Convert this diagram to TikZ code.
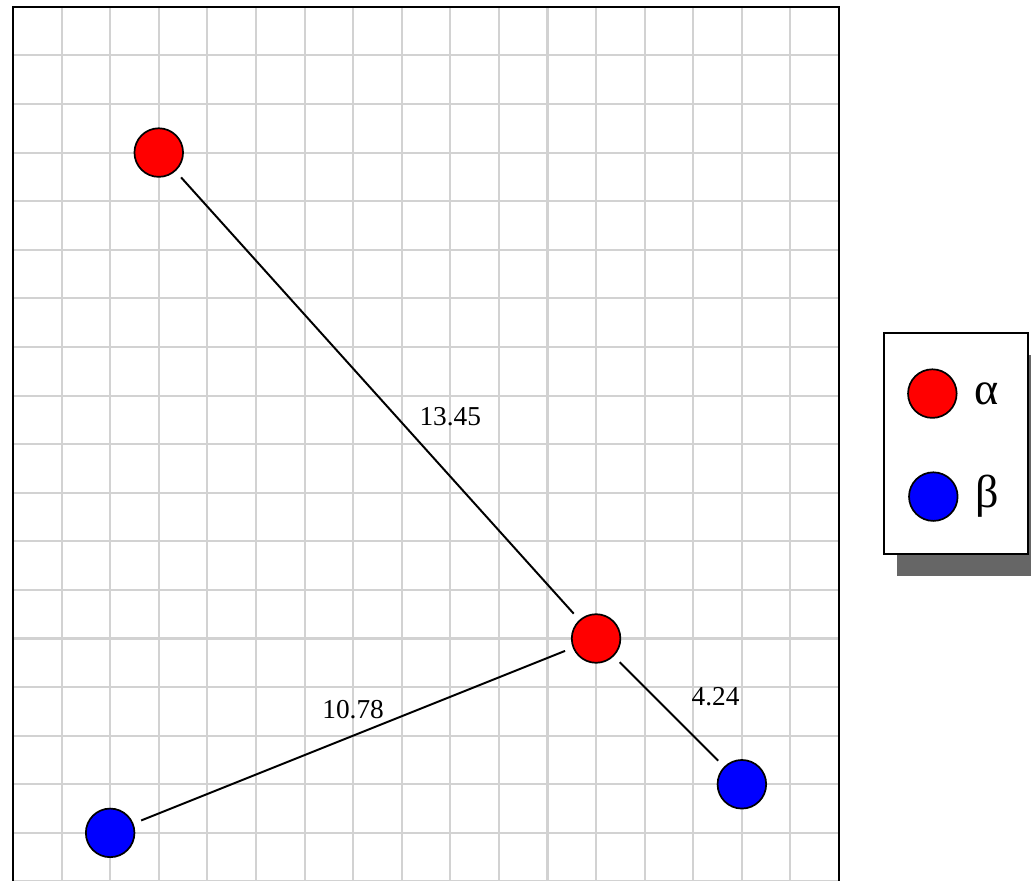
\documentclass[tikz,border=0pt]{standalone}
\usepackage{fontspec}
\setmainfont{Liberation Serif}
\usetikzlibrary{positioning}

\begin{document}
\begin{tikzpicture}[
    pt/.style={circle,draw=black,line width=1pt,minimum size=1cm,inner sep=0pt},
    redpt/.style={pt,fill=red},
    bluept/.style={pt,fill=blue},
    link/.style={line width=1.15pt,shorten <=0.17cm,shorten >=0.17cm},
    dist/.style={font=\fontsize{16}{18}\selectfont}]
  \useasboundingbox (-0.267,0.016) rectangle (20.95,18.14);
  % grid with frame (bottom edge falls off the page)
  \draw[step=1,gray!35,line width=1.2pt] (0,0) grid (17,18);
  \draw[line width=1.2pt] (0,0) -- (0,18) -- (17,18) -- (17,0);
  % points
  \node[redpt] (a1) at (3,15) {};
  \node[redpt] (a2) at (12,5) {};
  \node[bluept] (b1) at (2,1) {};
  \node[bluept] (b2) at (15,2) {};
  % distances
  \draw[link] (a1) -- node[dist,midway,shift={(1.5,-0.43)}] {13.45} (a2);
  \draw[link] (a2) -- node[dist,midway,shift={(0,0.53)}] {10.78} (b1);
  \draw[link] (a2) -- node[dist,midway,shift={(0.96,0.31)}] {4.24} (b2);
  % legend
  \fill[black!60] (18.185,6.28) rectangle (21.3,10.83);
  \draw[fill=white,line width=1.1pt] (17.93,6.74) rectangle (20.88,11.29);
  \node[redpt] (la) at (18.92,10.04) {};
  \node[bluept] (lb) at (18.94,7.92) {};
  \node[font=\fontsize{27}{29}\selectfont,right=0.22cm of la] (ta) {α};
  \node[font=\fontsize{27}{29}\selectfont,right=0.22cm of lb] (tb) {β};
\end{tikzpicture}
\end{document}
